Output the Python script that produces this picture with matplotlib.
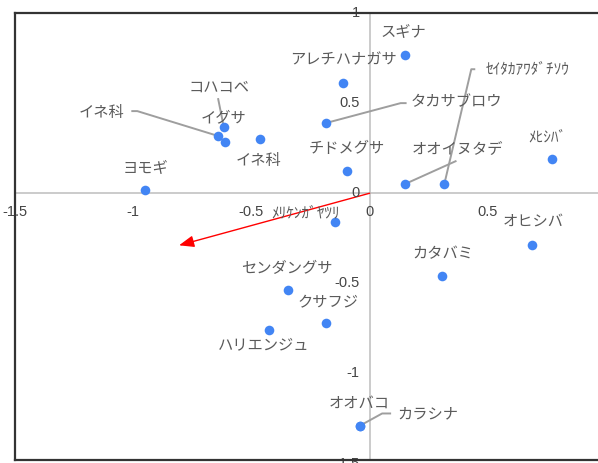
"""
plot.py
Ordination biplot of plant species (PCA scores + one loading vector)
"""

import numpy as np
import matplotlib
matplotlib.use("Agg")
import matplotlib.pyplot as plt


# -----------------------------------------------------------------------
# Data
# -----------------------------------------------------------------------

species = ["ヨモギ", "イネ科", "コハコベ", "イグサ", "イネ科", "アレチハナガサ",
           "スギナ", "タカサブロウ", "チドメグサ", "オオイヌタデ", "ｾｲﾀｶｱﾜﾀﾞﾁｿｳ",
           "ﾒﾋｼﾊﾞ", "オヒシバ", "カタバミ", "ﾒﾘｹﾝｶﾞﾔﾂﾘ", "センダングサ",
           "クサフジ", "ハリエンジュ", "オオバコ", "カラシナ"]
pc1 = [-0.95, -0.64, -0.615, -0.612, -0.464, -0.114, 0.148, -0.186, -0.097,
       0.148, 0.316, 0.77, 0.688, 0.308, -0.148, -0.346, -0.185, -0.426,
       -0.04, -0.04]
pc2 = [0.017, 0.317, 0.367, 0.283, 0.30, 0.611, 0.767, 0.389, 0.122, 0.05,
       0.05, 0.189, -0.289, -0.461, -0.161, -0.539, -0.722, -0.761, -1.294,
       -1.294]

# loading vector (drawn as red arrow from origin)
vec_x, vec_y = -0.806, -0.289

x_ticks = [-1.5, -1, -0.5, 0, 0.5]
y_ticks = [1, 0.5, 0, -0.5, -1, -1.5]

# label offsets in pixels (dx, dy; dy positive = down) and optional leader lines
label_pos = {
    0: (1, -23), 1: (-117, -24), 2: (-5, -40), 3: (-1, -24), 4: (-1, 21),
    5: (1, -23), 6: (-1, -23), 7: (131, -21), 8: (0, -23), 9: (53, -36),
    10: (83, -115), 11: (-4, -22), 12: (1, -24), 13: (0, -23), 14: (-29, -9),
    15: (-1, -22), 16: (2, -21), 17: (-5, 14), 18: (-1, -23), 19: (68, -13),
}
leaders = {
    1: [(-3, -1), (-81, -25), (-86, -25)],
    2: [(-1, -3), (-6, -28)],
    7: [(0, 0), (75, -20), (80, -20)],
    9: [(0, 0), (51, -23)],
    10: [(0, 0), (27, -115), (30, -115)],
    19: [(2, -2), (22, -13), (30, -13)],
}

JP = ["Noto Sans CJK JP", "DejaVu Sans"]
NUM = ["Liberation Sans", "DejaVu Sans"]
TXT = "#5a5a5a"

# -----------------------------------------------------------------------
# Figure
# -----------------------------------------------------------------------

W, H = 598, 463
fig = plt.figure(figsize=(W / 100, H / 100), dpi=100)
left, right, top, bottom = 15, 598, 13, 460
ax = fig.add_axes([left / W, 1 - bottom / H, (right - left) / W, (bottom - top) / H])
ax.set_xlim(-1.5, (right - 369) / 237)
ax.set_ylim(-1.48, 1.0)

for s in ["left", "top", "bottom"]:
    ax.spines[s].set_color("#333333")
    ax.spines[s].set_linewidth(1.6)
    ax.spines[s].set_zorder(6)
ax.spines["right"].set_visible(False)
ax.set_xticks([])
ax.set_yticks([])

ax.axhline(0, color="#bdbdbd", lw=1.1, zorder=1)
ax.axvline(0, color="#bdbdbd", lw=1.1, zorder=1)

# tick labels sit next to the zero lines
for t in x_ticks:
    ax.annotate(f"{t:g}", (t, 0), xytext=(0, -19), textcoords="offset pixels",
                ha="center", va="center", fontsize=10.5, color="#444444",
                family=NUM, annotation_clip=False)
for t in y_ticks:
    ax.annotate(f"{t:g}", (0, t), xytext=(-10, 0), textcoords="offset pixels",
                ha="right", va="center", fontsize=10.5, color="#444444",
                family=NUM, annotation_clip=False)

ax.annotate("", xy=(vec_x, vec_y), xytext=(0, 0),
            arrowprops=dict(arrowstyle="-|>,head_length=0.9,head_width=0.35",
                            color="red", lw=1.0, shrinkA=0, shrinkB=0),
            zorder=2)

ax.scatter(pc1, pc2, s=48, color="#4285f4", zorder=4, linewidths=0)

fig.canvas.draw()
inv = ax.transData.inverted()
for i, name in enumerate(species):
    px, py = ax.transData.transform((pc1[i], pc2[i]))
    if i in leaders:
        verts = np.array([(px + dx, py - dy) for dx, dy in leaders[i]])
        d = inv.transform(verts)
        ax.plot(d[:, 0], d[:, 1], color="#9e9e9e", lw=1.4, zorder=3)
    dx, dy = label_pos[i]
    ax.annotate(name, (pc1[i], pc2[i]), xytext=(dx, -dy), textcoords="offset pixels",
                ha="center", va="center", fontsize=11, color=TXT, family=JP,
                zorder=5)

fig.savefig("out.png", dpi=100)
